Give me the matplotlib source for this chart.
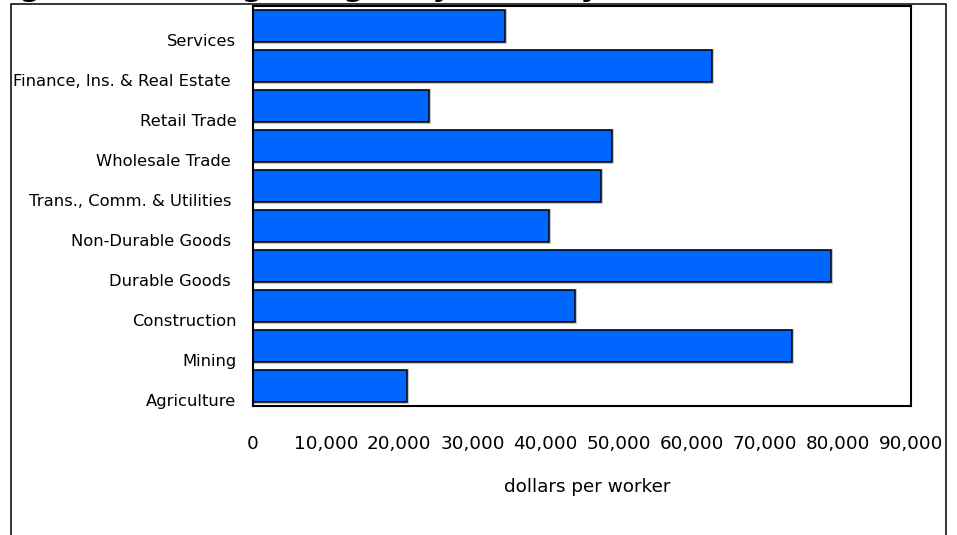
import matplotlib
matplotlib.use("Agg")
import matplotlib.pyplot as plt
import matplotlib.patheffects as pe
from matplotlib.patches import Rectangle
from matplotlib.ticker import FuncFormatter

# industries, listed top to bottom
industries = ["Services", "Finance, Ins. & Real Estate ", "Retail Trade",
              "Wholesale Trade ", "Trans., Comm. & Utilities ",
              "Non-Durable Goods ", "Durable Goods ", "Construction",
              "Mining", "Agriculture"]
wages = [34400, 62800, 24100, 49100, 47600, 40500, 79100, 44100, 73700, 21100]
xticks = [0, 10000, 20000, 30000, 40000, 50000, 60000, 70000, 80000, 90000]

BLUE = "#0066ff"

plt.rcParams["font.family"] = "DejaVu Sans"
fig = plt.figure(figsize=(9.57, 5.35), dpi=100)
ax = fig.add_axes([253 / 957, 1 - 406 / 535, 658 / 957, 400 / 535])

ypos = list(range(len(industries)))
bars = ax.barh(ypos, wages, height=0.78, color=BLUE, edgecolor="black",
               linewidth=1.1)
for b in bars:
    b.set_path_effects([pe.Stroke(linewidth=2.2, foreground="#c8c8c8"),
                        pe.Normal()])

ax.set_ylim(len(industries) - 0.5, -0.5)
ax.set_xlim(0, 90000)
# category labels sit level with the lower edge of each bar
ax.set_yticks([y + 0.36 for y in ypos])
ax.set_yticklabels(industries, fontsize=11.8)
ax.set_xticks(xticks)
ax.xaxis.set_major_formatter(FuncFormatter(lambda v, p: f"{v:,.0f}"))
ax.tick_params(axis="x", length=0, pad=21, labelsize=13.2)
ax.tick_params(axis="y", length=0, pad=12)
for s in ax.spines.values():
    s.set_linewidth(1.5)
    s.set_color("black")

ax.set_xlabel("dollars per worker", fontsize=13.2)
ax.xaxis.set_label_coords((587 - 253) / 658, (406 - 487) / 400)
ax.xaxis.label.set_va("center")

# surrounding chart frame, open past the bottom edge
fig.patches.append(Rectangle((11 / 957, -0.05), 935 / 957, 1.05 - 4 / 535,
                             transform=fig.transFigure, fill=False,
                             edgecolor="black", linewidth=1.1, clip_on=False))

fig.text(-0.01, 1 + 4 / 535, "Figure 2: Average Wages by Industry",
         fontsize=21, fontweight="bold", ha="left", va="baseline")

fig.savefig("out.png", dpi=100)
